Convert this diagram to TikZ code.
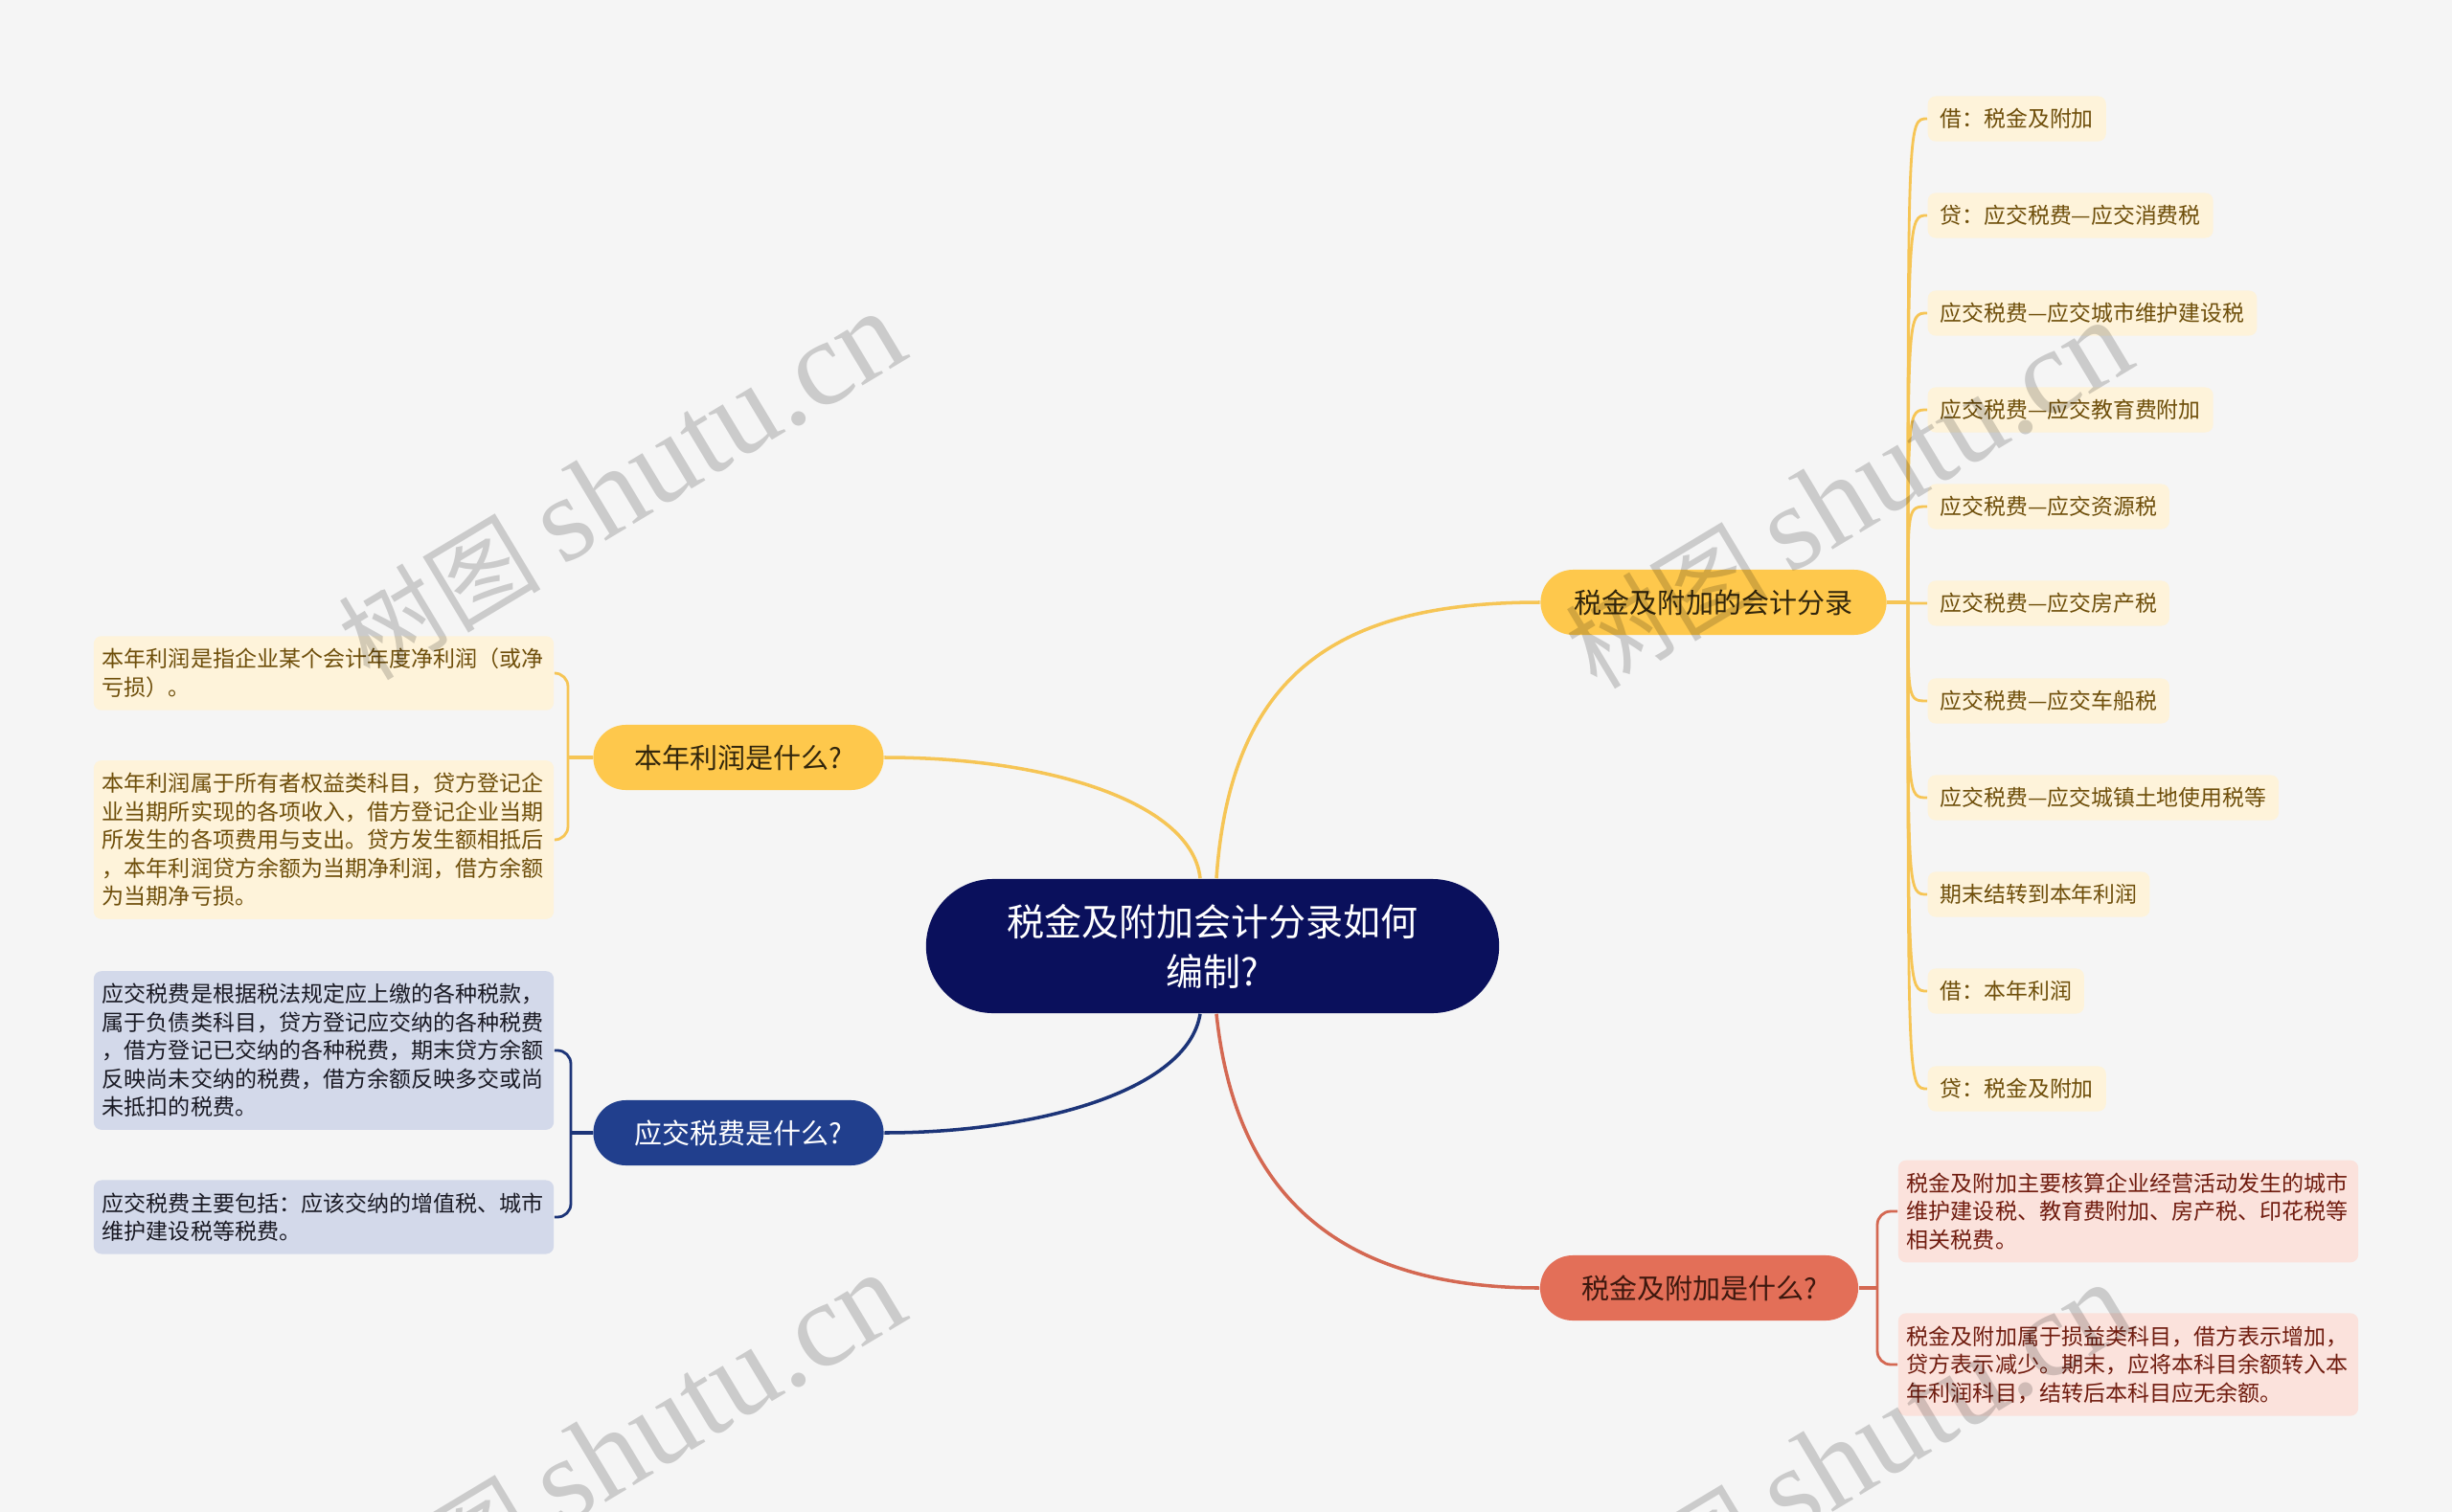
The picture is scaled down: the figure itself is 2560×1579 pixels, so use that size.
\documentclass[tikz,border=0pt]{standalone}
\usepackage{fontspec}
\setmainfont{Noto Sans CJK SC}
\newfontfamily\wmfont{Liberation Serif}
\usetikzlibrary{calc}

\definecolor{bgcol}{RGB}{245,245,245}
\definecolor{rootcol}{RGB}{10,16,92}
\definecolor{yelcol}{RGB}{254,200,76}
\definecolor{yelline}{RGB}{246,197,85}
\definecolor{yelleaf}{RGB}{254,243,218}
\definecolor{yeltext}{RGB}{110,78,10}
\definecolor{bluecol}{RGB}{33,63,141}
\definecolor{blueline}{RGB}{28,52,120}
\definecolor{blueleaf}{RGB}{211,217,234}
\definecolor{bluetext}{RGB}{25,25,35}
\definecolor{redcol}{RGB}{227,111,88}
\definecolor{redline}{RGB}{212,104,82}
\definecolor{redleaf}{RGB}{251,226,220}
\definecolor{redtext}{RGB}{112,28,15}

\begin{document}
\begin{tikzpicture}[x=0.01cm, y=-0.01cm,
  root/.style={fill=rootcol, text=white, rounded corners=0.7cm, minimum width=5.98cm,
    minimum height=1.4cm, align=center, font=\fontsize{11.1}{14.8}\selectfont},
  topic/.style={rounded corners=0.34cm, minimum height=0.68cm, minimum width=3.03cm,
    font=\fontsize{8.25}{10}\selectfont},
  leaf/.style={rounded corners=0.08cm, align=left, text width=4.62cm, inner xsep=0.09cm,
    inner ysep=0.13cm, font=\fontsize{6.55}{8.4}\selectfont},
  smallleaf/.style={fill=yelleaf, text=yeltext, rounded corners=0.08cm, anchor=west,
    minimum height=0.47cm, inner xsep=0.13cm, font=\fontsize{6.5}{8.4}\selectfont},
  link/.style={line width=1pt},
  twig/.style={line width=0.8pt, rounded corners=0.14cm},
  watermark/.style={text=black, text opacity=0.17, rotate=31, font=\fontsize{30}{36}\selectfont}
]

% Background and frame
\fill[bgcol] (0,0) rectangle (2560,1579);
\useasboundingbox (0,0) rectangle (2560,1579);

% ========== Root ==========
\node[root] (root) at (1266,988) {税金及附加会计分录如何\\编制?};

% ========== Main topics ==========
\node[topic, fill=yelcol, text={rgb,255:red,50;green,38;blue,12}] (profit) at (771,791) {本年利润是什么?};
\node[topic, fill=bluecol, text=white] (taxdue) at (771,1183) {应交税费是什么?};
\node[topic, fill=yelcol, text={rgb,255:red,50;green,38;blue,12}, minimum width=3.61cm] (entry) at (1789,629) {税金及附加的会计分录};
\node[topic, fill=redcol, text={rgb,255:red,62;green,24;blue,14}, minimum width=3.32cm] (surtax) at (1774,1345) {税金及附加是什么?};

% Curves from the root
\draw[link, yelline] ($(root.north)+(-13,0)$) .. controls (1245,840) and (1100,791) .. (profit.east);
\draw[link, yelline] ($(root.north)+(4,0)$) .. controls (1285,700) and (1400,629) .. (entry.west);
\draw[link, blueline] ($(root.south)+(-13,0)$) .. controls (1240,1140) and (1080,1183) .. (taxdue.east);
\draw[link, redline] ($(root.south)+(4,0)$) .. controls (1290,1250) and (1400,1345) .. (surtax.west);

% ========== Left: profit ==========
\node[leaf, fill=yelleaf, text=yeltext] (pdef) at (338,703) {本年利润是指企业某个会计年度净利润（或净\\亏损）。};
\node[leaf, fill=yelleaf, text=yeltext] (pacc) at (338,877) {本年利润属于所有者权益类科目，贷方登记企\\业当期所实现的各项收入，借方登记企业当期\\所发生的各项费用与支出。贷方发生额相抵后\\，本年利润贷方余额为当期净利润，借方余额\\为当期净亏损。};
\coordinate (pfork) at (593,791);
\draw[link, yelline] (profit.west) -- (pfork);
\draw[twig, yelline] (pdef.east) -| (pfork |- pacc.east) -- (pacc.east);

% ========== Left: tax payable ==========
\node[leaf, fill=blueleaf, text=bluetext] (tdef) at (338,1097) {应交税费是根据税法规定应上缴的各种税款，\\属于负债类科目，贷方登记应交纳的各种税费\\，借方登记已交纳的各种税费，期末贷方余额\\反映尚未交纳的税费，借方余额反映多交或尚\\未抵扣的税费。};
\node[leaf, fill=blueleaf, text=bluetext] (tinc) at (338,1271) {应交税费主要包括：应该交纳的增值税、城市\\维护建设税等税费。};
\coordinate (tfork) at (596,1183);
\draw[link, blueline] (taxdue.west) -- (tfork);
\draw[twig, blueline] (tdef.east) -| (tfork |- tinc.east) -- (tinc.east);

% ========== Right: entries ==========
\coordinate (efork) at (1992,629);
\draw[link, yelline] (entry.east) -- (efork);
\foreach \i/\txt/\y in {1/借：税金及附加/124, 2/贷：应交税费—应交消费税/225,
    3/应交税费—应交城市维护建设税/327, 4/应交税费—应交教育费附加/428,
    5/应交税费—应交资源税/529, 6/应交税费—应交房产税/630,
    7/应交税费—应交车船税/732, 8/应交税费—应交城镇土地使用税等/833,
    9/期末结转到本年利润/934, 10/借：本年利润/1035, 11/贷：税金及附加/1137} {
  \node[smallleaf] (e\i) at (2012,\y) {\txt};
  \draw[line width=0.8pt, yelline] (efork) .. controls (efork |- e\i.west) .. (e\i.west);
}

% ========== Right: surtax ==========
\node[leaf, fill=redleaf, text=redtext] (sdef) at (2222,1265) {税金及附加主要核算企业经营活动发生的城市\\维护建设税、教育费附加、房产税、印花税等\\相关税费。};
\node[leaf, fill=redleaf, text=redtext] (sacc) at (2222,1425) {税金及附加属于损益类科目，借方表示增加，\\贷方表示减少。期末，应将本科目余额转入本\\年利润科目，结转后本科目应无余额。};
\coordinate (sfork) at (1960,1345);
\draw[link, redline] (surtax.east) -- (sfork);
\draw[twig, redline] (sdef.west) -| (sfork |- sacc.west) -- (sacc.west);

% Watermarks
\begin{scope}
\clip (0,0) rectangle (2560,1579);
\foreach \x/\y in {649/508, 1930/517, 649/1512, 1930/1522}
  \node[watermark] at (\x,\y) {树图 {\wmfont\fontsize{36}{40}\selectfont shutu.cn}};
\end{scope}

\end{tikzpicture}
\end{document}
